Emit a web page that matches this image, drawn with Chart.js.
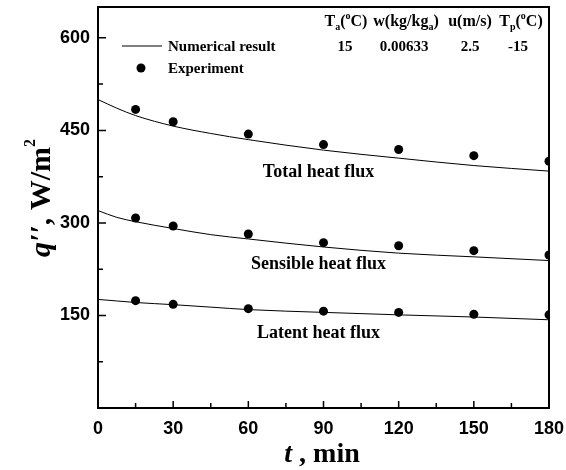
<!DOCTYPE html>
<html>
<head>
<meta charset="utf-8">
<script src="https://cdn.jsdelivr.net/npm/chart.js@4.4.0/dist/chart.umd.min.js"></script>
<style>
  html, body { margin: 0; padding: 0; background: #fff; }
</style>
</head>
<body>
<canvas id="chart" width="566" height="470"></canvas>
<script>
// experiment points
const expTimes = [15, 30, 60, 90, 120, 150, 180];
const totalExp = [484, 464, 444, 427, 419, 409, 400];
const sensibleExp = [308, 295, 282, 268, 263, 255, 248];
const latentExp = [174, 168, 161, 157, 155, 152, 151];

// numerical result curves
const modelTimes = [0, 7.5, 15, 30, 45, 60, 90, 120, 150, 180];
const totalModel = [500, 486, 474, 457, 445, 435, 418, 405, 393, 384];
const sensibleModel = [320, 309, 302, 291, 281, 274, 261, 251, 245, 239];
const latentModel = [176, 173.5, 171, 167.5, 163.5, 159.5, 155, 151, 147.5, 143];

const xTickLabels = [0, 30, 60, 90, 120, 150, 180];
const yTickLabels = [150, 300, 450, 600];

const pts = (xs, ys) => xs.map((t, i) => ({ x: t, y: ys[i] }));

const curve = (d) => ({
  data: d, showLine: true, borderColor: '#000', borderWidth: 1,
  pointRadius: 0, cubicInterpolationMode: 'monotone', fill: false
});
const dots = (d) => ({
  data: d, showLine: false, pointRadius: 4.5, pointBackgroundColor: '#000',
  pointBorderColor: '#000', pointBorderWidth: 0
});

const SERIF = '"Liberation Serif", "DejaVu Serif", serif';

function partsWidth(ctx, parts) {
  let w = 0;
  parts.forEach(p => { ctx.font = p[1]; w += ctx.measureText(p[0]).width; });
  return w;
}

function drawParts(ctx, x, y, parts) {
  // parts: [text, font, dy]
  parts.forEach(p => {
    ctx.font = p[1];
    ctx.fillText(p[0], x, y + (p[2] || 0));
    x += ctx.measureText(p[0]).width;
  });
  return x;
}

function drawCentered(ctx, cx, y, parts) {
  drawParts(ctx, cx - partsWidth(ctx, parts) / 2, y, parts);
}

const decor = {
  id: 'decor',
  afterDraw(chart) {
    const { ctx, chartArea: a, scales: { x, y } } = chart;
    ctx.save();
    ctx.strokeStyle = '#000';
    ctx.fillStyle = '#000';

    // frame
    ctx.lineWidth = 2;
    ctx.strokeRect(a.left, a.top, a.right - a.left, a.bottom - a.top);

    // inward ticks
    ctx.lineWidth = 1.5;
    ctx.beginPath();
    x.ticks.forEach(t => {
      const px = x.getPixelForValue(t.value);
      const len = t.value % 30 === 0 ? 7 : 5;
      ctx.moveTo(px, a.bottom); ctx.lineTo(px, a.bottom - len);
    });
    y.ticks.forEach(t => {
      const py = y.getPixelForValue(t.value);
      const len = t.value % 150 === 0 ? 8 : 5;
      ctx.moveTo(a.left, py); ctx.lineTo(a.left + len, py);
    });
    ctx.stroke();

    // curve labels
    ctx.textBaseline = 'alphabetic';
    ctx.textAlign = 'center';
    ctx.font = 'bold 18px ' + SERIF;
    ctx.fillText('Total heat flux', x.getPixelForValue(88), y.getPixelForValue(375));
    ctx.fillText('Sensible heat flux', x.getPixelForValue(88), y.getPixelForValue(225));
    ctx.fillText('Latent heat flux', x.getPixelForValue(88), y.getPixelForValue(114));

    // legend
    ctx.textAlign = 'left';
    ctx.lineWidth = 1;
    ctx.beginPath();
    ctx.moveTo(122, 46); ctx.lineTo(162, 46);
    ctx.stroke();
    ctx.beginPath();
    ctx.arc(141, 68, 4.5, 0, Math.PI * 2);
    ctx.fill();
    ctx.font = 'bold 15px ' + SERIF;
    ctx.fillText('Numerical result', 168, 51);
    ctx.fillText('Experiment', 168, 73);

    // condition table
    const h = 'bold 16px ' + SERIF;
    const b = 'bold 15px ' + SERIF;
    const s = 'bold 10px ' + SERIF;
    drawCentered(ctx, 346, 26, [['T', h], ['a', s, 4], ['(', h], ['o', s, -7], ['C)', h]]);
    drawCentered(ctx, 406, 26, [['w(kg/kg', h], ['a', s, 4], [')', h]]);
    drawCentered(ctx, 470, 26, [['u(m/s)', h]]);
    drawCentered(ctx, 521, 26, [['T', h], ['p', s, 4], ['(', h], ['o', s, -7], ['C)', h]]);
    drawCentered(ctx, 345, 51, [['15', b]]);
    drawCentered(ctx, 404, 51, [['0.00633', b]]);
    drawCentered(ctx, 470, 51, [['2.5', b]]);
    drawCentered(ctx, 518, 51, [['-15', b]]);

    // x axis title
    const tb = 'bold 28px ' + SERIF;
    const ti = 'italic bold 28px ' + SERIF;
    drawCentered(ctx, 322, 462, [['t', ti], [' , min', tb]]);

    // y axis title
    const yb = 'bold 30px ' + SERIF;
    const yi = 'italic bold 30px ' + SERIF;
    ctx.translate(50, 198);
    ctx.rotate(-Math.PI / 2);
    const sup = 'bold 16px ' + SERIF;
    drawCentered(ctx, 0, 0, [['q', yi], ['\u2032\u2032', yi], [', W/m', yb], ['2', sup, -15]]);

    ctx.restore();
  }
};

new Chart(document.getElementById('chart'), {
  type: 'scatter',
  data: {
    datasets: [
      curve(pts(modelTimes, totalModel)),
      curve(pts(modelTimes, sensibleModel)),
      curve(pts(modelTimes, latentModel)),
      dots(pts(expTimes, totalExp)),
      dots(pts(expTimes, sensibleExp)),
      dots(pts(expTimes, latentExp))
    ]
  },
  options: {
    responsive: false,
    animation: false,
    layout: { padding: { top: 7, right: 17, left: 0, bottom: 0 } },
    plugins: { legend: { display: false }, tooltip: { enabled: false } },
    scales: {
      x: {
        type: 'linear', min: 0, max: 180,
        grid: { display: false, drawTicks: false },
        border: { display: false },
        ticks: {
          stepSize: 15, padding: 10, color: '#000', maxRotation: 0,
          font: { family: '"Liberation Sans", Arial, sans-serif', size: 18, weight: 'bold' },
          callback: v => xTickLabels.includes(v) ? String(v) : ''
        },
        afterFit: s => { s.height = 62; s.paddingLeft = 0; s.paddingRight = 0; }
      },
      y: {
        type: 'linear', min: 0, max: 650,
        grid: { display: false, drawTicks: false },
        border: { display: false },
        ticks: {
          stepSize: 75, padding: 8, color: '#000',
          font: { family: '"Liberation Sans", Arial, sans-serif', size: 18, weight: 'bold' },
          callback: v => yTickLabels.includes(v) ? String(v) : ''
        },
        afterFit: s => { s.width = 98; s.paddingTop = 0; s.paddingBottom = 0; }
      }
    }
  },
  plugins: [decor]
});
</script>
</body>
</html>
